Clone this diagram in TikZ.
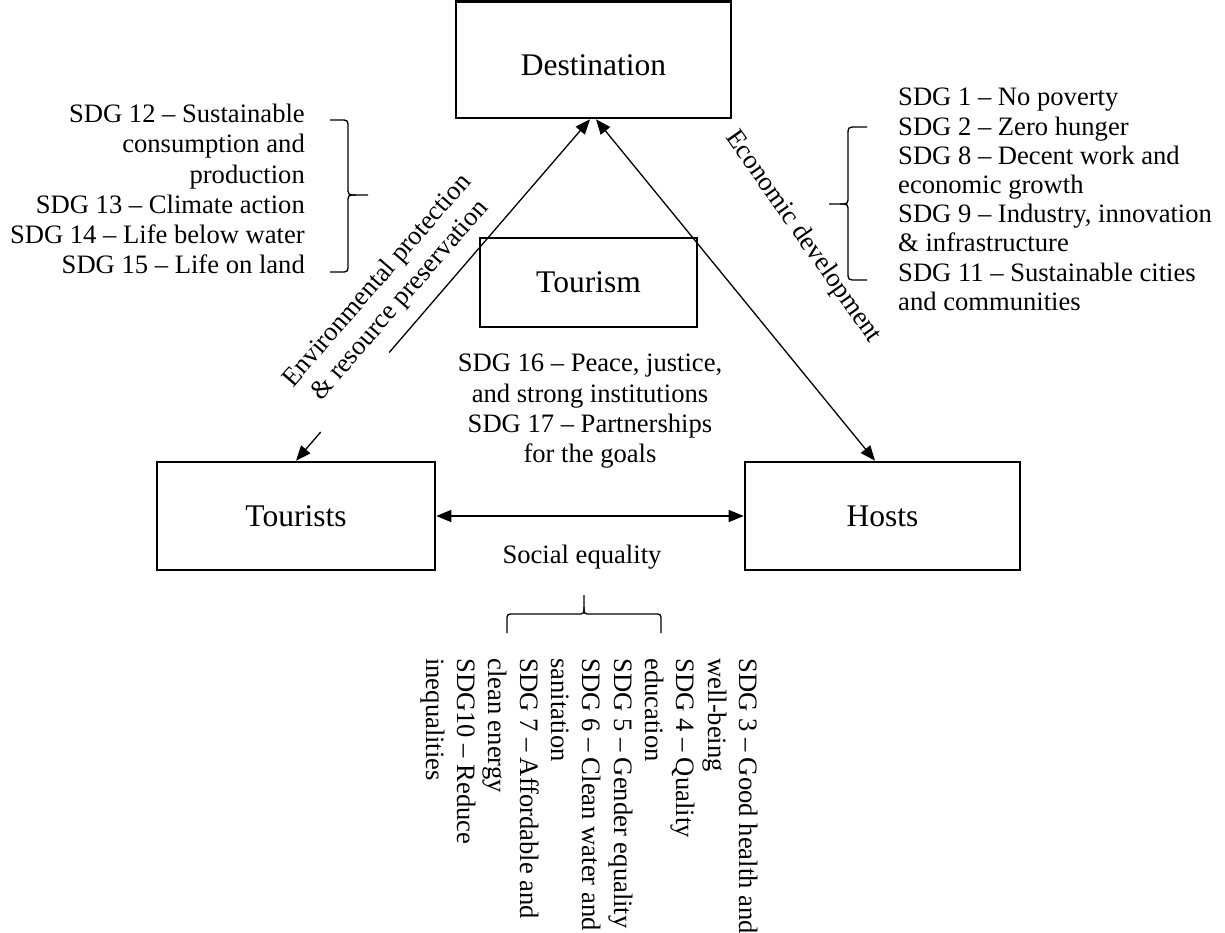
\documentclass[tikz,border=0pt]{standalone}
\usepackage{fontspec}
\setmainfont{Liberation Serif}
\usetikzlibrary{arrows.meta,calc}
\begin{document}
\begin{tikzpicture}[x=1pt,y=-1pt,
  boxnode/.style={draw, line width=2.6pt, fill=white, inner sep=0pt,
    font=\fontsize{31.5}{36}\selectfont},
  txt/.style={inner sep=0pt, font=\fontsize{26.6}{30.2}\selectfont},
  tip/.style={Triangle[length=15pt,width=12pt]},
  conn/.style={line width=1.3pt},
  bothway/.style={conn, {Triangle[length=15pt,width=12pt]}-{Triangle[length=15pt,width=12pt]}},
  oneway/.style={conn, -{Triangle[length=15pt,width=12pt]}},
  brace/.style={line width=1.3pt}
]
\useasboundingbox (0,0) rectangle (1225,932);
\fill[white] (0,0) rectangle (1225,932);

% boxes
\node[boxnode, minimum width=275pt, minimum height=116.5pt, text height=30.5pt, text depth=0pt] (dest) at (593.5,59.75) {Destination};
\node[boxnode, minimum width=217pt, minimum height=89pt] (tourism) at (588.5,282.5) {Tourism};
\node[boxnode, minimum width=278pt, minimum height=108pt] (tour) at (296,516) {Tourists};
\node[boxnode, minimum width=275pt, minimum height=108pt] (hosts) at (882.5,516) {Hosts};

% connector end points
\coordinate (dl) at ([xshift=-3.5pt]dest.south);
\coordinate (dr) at ([xshift=2.5pt]dest.south);
\coordinate (tn) at (tour.north);
\coordinate (hn) at ([xshift=-7.5pt]hosts.north);
\coordinate (gapA) at ($(dl)!0.683!(tn)$);
\coordinate (gapB) at ($(dl)!0.916!(tn)$);

% connectors
\draw[oneway] (gapA) -- (dl);
\draw[oneway] (gapB) -- (tn);
\draw[bothway] (dr) -- (hn);
\draw[bothway] (tour.east) -- (hosts.west);

% texts
\node[txt, align=right, anchor=north east] (sdgl) at (305,104)
  {SDG 12 – Sustainable\\consumption and\\production\hspace*{15pt}\\SDG 13 – Climate action\\SDG 14 – Life below water\\SDG 15 – Life on land};
\node[txt, font=\fontsize{26.6}{29.2}\selectfont, align=left, anchor=north west] (sdgr) at (898,88)
  {SDG 1 – No poverty\\SDG 2 – Zero hunger\\SDG 8 – Decent work and\\economic growth\\SDG 9 – Industry, innovation\\\& infrastructure\\SDG 11 – Sustainable cities\\and communities};
\node[txt, align=center, anchor=north] (sdgc) at (590,354)
  {SDG 16 – Peace, justice,\\and strong institutions\\SDG 17 – Partnerships\\for the goals};
\node[txt, anchor=base] (soc) at (582,563) {Social equality};
\node[txt, align=center, rotate=49] (env) at (389,291) {Environmental protection\\\& resource preservation};
\node[txt, rotate=-55] (eco) at (803,237) {Economic development};
\node[txt, font=\fontsize{26.6}{31.3}\selectfont, align=left, rotate=-90, anchor=north west] (sdgb) at (758,658)
  {SDG 3 – Good health and\\well-being\\SDG 4 – Quality\\education\\SDG 5 – Gender equality\\SDG 6 – Clean water and\\sanitation\\SDG 7 – Affordable and\\clean energy\\SDG10 – Reduce\\inequalities};

% braces
\draw[brace] (330,120) -- (340,120) .. controls (348,120) .. (348,128) -- (348,187) .. controls (348,195) .. (356,195) -- (368,195);
\draw[brace] (330,272) -- (340,272) .. controls (348,272) .. (348,264) -- (348,203) .. controls (348,195) .. (356,195);
\draw[brace] (867,127) -- (857,127) .. controls (848,127) .. (848,135) -- (848,196) .. controls (848,204) .. (840,204) -- (829,204);
\draw[brace] (867,280) -- (857,280) .. controls (848,280) .. (848,272) -- (848,212) .. controls (848,204) .. (840,204);
\draw[brace] (507,633) -- (507,621) .. controls (507,614) .. (514,614) -- (577,614) .. controls (584,614) .. (584,607) -- (584,595);
\draw[brace] (661,633) -- (661,621) .. controls (661,614) .. (654,614) -- (591,614) .. controls (584,614) .. (584,607);
\end{tikzpicture}
\end{document}
